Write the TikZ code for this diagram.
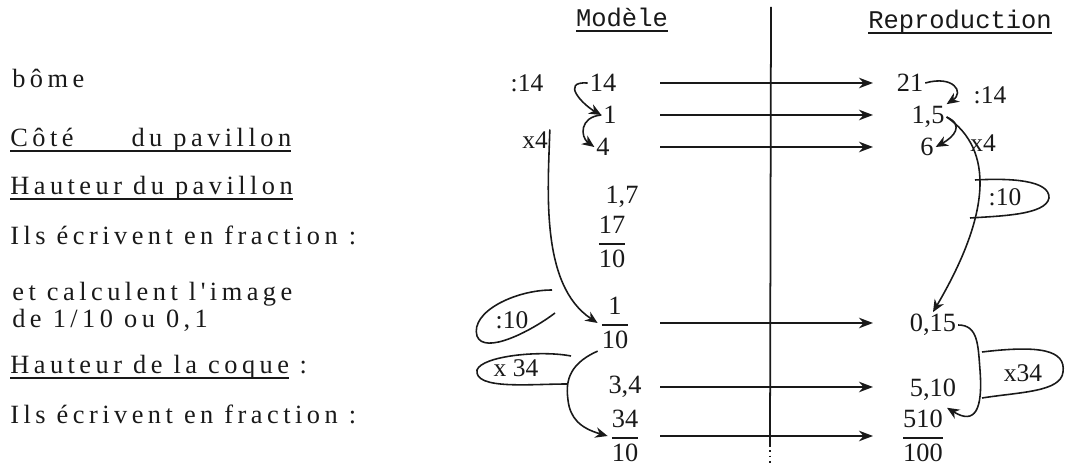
\documentclass[tikz,border=0pt]{standalone}
\usepackage{fontspec}
\usepackage{amsmath}
\setmainfont{Liberation Serif}
\newfontfamily\spaced{Liberation Serif}[LetterSpace=17]
\newfontfamily\typew{Liberation Mono}
\usetikzlibrary{arrows.meta, calc}
\definecolor{ink}{RGB}{25,25,25}
% underline drawn as a thick rule under a box
\newcommand\ulin[1]{\setbox0\hbox{#1}\rlap{\rule[-3pt]{\wd0}{1.1pt}}\box0}
% stacked fraction with text digits
\newcommand\frc[2]{$\genfrac{}{}{1pt}{0}{\mbox{#1}}{\mbox{#2}}$}
\tikzset{
  % left column text
  lbl/.style={anchor=west,font=\spaced\fontsize{15}{15}\selectfont,
              inner sep=0pt,text=ink,align=left},
  % column headers
  head/.style={font=\typew\fontsize{14.5}{17}\selectfont,inner sep=0pt,text=ink},
  % numbers in the table
  num/.style={font=\fontsize{15}{18}\selectfont,inner sep=1pt,text=ink},
  % handwritten operators
  note/.style={font=\fontsize{14.5}{16}\selectfont,inner sep=1pt,text=ink},
  % arrows
  harr/.style={-{Stealth[length=8pt,width=6pt]},line width=1.1pt,draw=ink},
  carr/.style={-{Stealth[length=7pt,width=6pt]},line width=0.9pt,draw=ink},
  loopln/.style={line width=0.9pt,draw=ink},
}
\begin{document}
\begin{tikzpicture}[x=0.02cm,y=-0.02cm]
  \useasboundingbox (0,0) rectangle (1065,465);
  % left column
  \node[lbl] at (12,78) (t1) {bôme};
  \node[lbl] at (10,140) (t2) {\ulin{Côté\hspace{2.2em}du pavillon}};
  \node[lbl] at (10,188) (t3) {\ulin{Hauteur du pavillon}};
  \node[lbl] at (10,235) (t4) {Ils écrivent en fraction :};
  \node[lbl] at (12,307) (t5) {et calculent l'image\\de 1/10 ou 0,1};
  \node[lbl] at (10,367) (t6) {\ulin{Hauteur de la coque}\hspace{0.4em}:};
  \node[lbl] at (10,414) (t7) {Ils écrivent en fraction :};
  % headers and separator
  \node[head] at (622,20) (mod) {\ulin{Modèle}};
  \node[head] at (960,22) (rep) {\ulin{Reproduction}};
  \coordinate (vtop) at (771,7);
  \coordinate (vbot) at (770,445);
  \draw[line width=1pt,ink] (vtop) -- (vbot);
  \draw[line width=1pt,ink,dotted] (vbot) -- ++(0,20);
  % model column
  \node[num] at (603,83)  (m14)  {14};
  \node[num] at (610,115) (m1)   {1};
  \node[num] at (603,147) (m4)   {4};
  \node[num] at (622,197) (m17)  {1,7};
  \node[num] at (612,242) (mf17) {\frc{17}{10}};
  \node[num] at (615,323) (mf1)  {\frc{1}{10}};
  \node[num] at (625,387) (m34)  {3,4};
  \node[num] at (625,436) (mf34) {\frc{34}{10}};
  % reproduction column
  \node[num] at (910,83)  (r21)   {21};
  \node[num] at (928,117) (r15)   {1,5};
  \node[num] at (927,147) (r6)    {6};
  \node[num] at (933,325) (r015)  {0,15};
  \node[num] at (933,390) (r510)  {5,10};
  \node[num] at (923,436) (rf510) {\frc{510}{100}};
  % horizontal arrows
  \coordinate (hs) at (660,0);
  \coordinate (he) at (873,0);
  \foreach \r in {m14,m1,m4,mf1,m34,mf34}
    \draw[harr] (hs |- \r) -- (he |- \r);
  % operators on the model side
  \node[note] at (527,83)  (a14l)  {:14};
  \node[note] at (535,140) (ax4l)  {x4};
  \node[note] at (512,320) (a10l)  {:10};
  \node[note] at (516,368) (ax34l) {x 34};
  \draw[carr] (m14.west) .. controls +(-28,-2) and +(-18,-10) .. (m1.west);
  \draw[carr] (m1.west) .. controls +(-22,2) and +(-14,-10) .. (m4.west);
  \draw[carr] (ax4l.north east) .. controls (548,190) and (540,285) .. (mf1.west);
  \draw[loopln] (552,290) .. controls (515,290) and (470,312) .. (477,336)
                .. controls (484,355) and (530,332) .. (555,313);
  \draw[carr] (mf1.south west) .. controls (566,365) and (566,385) .. (568,400)
              .. controls (570,418) and (580,428) .. (mf34.west);
  \draw[loopln] (571,356) .. controls (540,350) and (482,356) .. (477,370)
                .. controls (474,390) and (530,384) .. (567,384);
  % operators on the reproduction side
  \node[note] at (990,95)   (a14r)  {:14};
  \node[note] at (983,143)  (ax4r)  {x4};
  \node[note] at (1005,197) (a10r)  {:10};
  \node[note] at (1023,373) (ax34r) {x34};
  \draw[carr] (r21.east) .. controls +(28,-8) and +(18,-12) .. (r15.north east);
  \draw[carr] (r15.east) .. controls +(18,8) and +(18,-10) .. (r6.east);
  \draw[carr] (r15.east) .. controls (995,150) and (990,215) .. (r015.north);
  \draw[loopln] (975,180) .. controls (1010,178) and (1050,180) .. (1049,198)
                .. controls (1046,215) and (1000,216) .. (970,218);
  \draw[carr] (r015.east) .. controls +(20,0) and (978,345) .. (980,370)
              .. controls (983,410) and (975,425) .. (rf510.north east);
  \draw[loopln] (982,352) .. controls (1040,345) and (1066,350) .. (1063,372)
                .. controls (1061,392) and (1020,392) .. (982,398);
\end{tikzpicture}
\end{document}
